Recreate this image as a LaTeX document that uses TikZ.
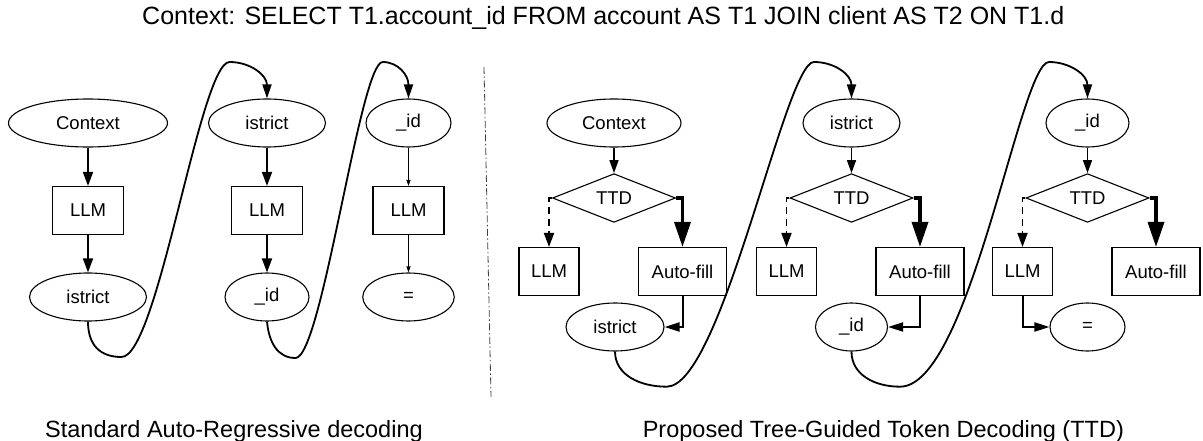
\documentclass[tikz,border=0pt]{standalone}
\usepackage{fontspec}
\setmainfont{Liberation Sans}
\usetikzlibrary{shapes.geometric,arrows.meta}

\begin{document}
\begin{tikzpicture}[x=1pt,y=-1pt,
  tokbox/.style={draw,ellipse,line width=1.1pt,inner sep=0pt,minimum height=48pt,font=\fontsize{18.5}{20}\selectfont},
  llmbox/.style={draw,rectangle,line width=1.1pt,inner sep=0pt,minimum height=48pt,font=\fontsize{18.5}{20}\selectfont},
  ttdbox/.style={draw,diamond,line width=1.1pt,inner sep=0pt,minimum width=123pt,minimum height=48pt,font=\fontsize{18.5}{20}\selectfont},
  flow/.style={line width=1.8pt,-{Triangle[length=14pt,width=10pt]}},
  thinflow/.style={line width=0.9pt,-{Triangle[length=6pt,width=4pt]}},
  midflow/.style={line width=1.5pt,-{Triangle[length=13pt,width=9pt]}},
  dashflow/.style={line width=1.8pt,dash pattern=on 7pt off 5pt,-{Triangle[length=14pt,width=10pt]}},
  bigflow/.style={line width=3.5pt,-{Triangle[length=25pt,width=16pt]}},
  sideflow/.style={line width=2pt,-{Triangle[length=15pt,width=9pt]}},
  jump/.style={line width=1.8pt,-{Triangle[length=14pt,width=9pt]}},
  caption/.style={anchor=base west,inner sep=0pt,font=\fontsize{23.5}{28}\selectfont}]
\useasboundingbox (0,0) rectangle (1203,441);

\node[anchor=base west,inner sep=0pt,font=\fontsize{25}{30}\selectfont] (title) at (142,25) {Context: SELECT T1.account\_id FROM account AS T1 JOIN client AS T2 ON T1.d};
\node[caption] (capL) at (45,437) {Standard Auto-Regressive decoding};
\node[caption] (capR) at (642.6,437) {Proposed Tree-Guided Token Decoding (TTD)};

% divider
\draw[black!75,line width=0.8pt,dash pattern=on 7pt off 2.5pt on 1.5pt off 2.5pt] (484,67) -- (491,397);

% standard decoding
\foreach \i/\x/\a/\wa/\b/\wb/\s in {1/88/Context/159/istrict/117/flow, 2/267/istrict/117/\_id/84/flow, 3/408.5/\_id/85/=/91.5/thinflow} {
  \node[tokbox,minimum width=\wa] (a\i) at (\x,123) {\a};
  \node[llmbox,minimum width=71] (m\i) at (\x,210.5) {LLM};
  \node[tokbox,minimum width=\wb] (b\i) at (\x,297) {\b};
  \draw[\s] (a\i) -- (m\i);
  \draw[\s] (m\i) -- (b\i);
}
\draw[jump] (b1.south) .. controls (88,345) and (100,357) .. (121.5,357) .. controls (158,357) and (200,62) .. (229.6,62) .. controls (250,62) and (267,75) .. (a2.north);
\draw[jump] (b2.south) .. controls (269,343) and (278,358) .. (295.5,358) .. controls (322,358) and (360,62) .. (382.7,62) .. controls (398,62) and (408.5,75) .. (a3.north);

% tree-guided decoding
\foreach \i/\x/\t/\w in {1/614/Context/134, 2/851.5/istrict/97, 3/1087.5/\_id/83} {
  \node[tokbox,minimum width=\w] (t\i) at (\x,123) {\t};
  \node[ttdbox] (d\i) at (\x,198) {TTD};
  \node[llmbox,minimum width=60] (l\i) at (\x-65,271.5) {LLM};
  \node[llmbox,minimum width=88] (f\i) at (\x+68.5,271.5) {Auto-fill};
  \draw[midflow] (t\i) -- (d\i);
  \draw[dashflow] (d\i.west) -| (l\i.north);
  \draw[bigflow] (d\i.east) -| (f\i.north);
}
\node[tokbox,minimum width=98] (o1) at (615,327) {istrict};
\node[tokbox,minimum width=72] (o2) at (851.5,327) {\_id};
\node[tokbox,minimum width=75] (o3) at (1087.5,327) {=};
\draw[sideflow] (f1.south) |- (o1.east);
\draw[sideflow] (f2.south) |- (o2.east);
\draw[sideflow] (l3.south) |- (o3.west);
\draw[jump] (o1.south) .. controls (615,375) and (640,386.7) .. (666.7,386.7) .. controls (722,386.7) and (785,62) .. (813.9,62) .. controls (835,62) and (851.5,75) .. (t2.north);
\draw[jump] (o2.south) .. controls (851.5,375) and (875,386.7) .. (900,386.7) .. controls (970,386.7) and (1020,62) .. (1049,62) .. controls (1070,62) and (1087.5,75) .. (t3.north);
\end{tikzpicture}
\end{document}
